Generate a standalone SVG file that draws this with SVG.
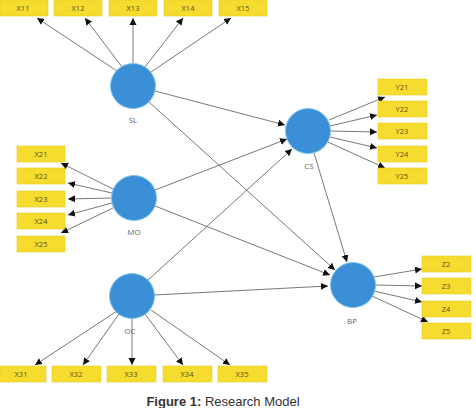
<svg xmlns="http://www.w3.org/2000/svg" width="476" height="408" viewBox="0 0 476 408">
<defs>
<marker id="ah" markerWidth="8" markerHeight="8" refX="7" refY="4" orient="auto" markerUnits="userSpaceOnUse">
<path d="M0,0.5 L7,4 L0,7.5 Z" fill="#111"/>
</marker>
<style>
.box{fill:#f6dc2f;stroke:#e8cc20;stroke-width:0.6}
.bt{font-family:"Open Sans","Liberation Sans",Arial,sans-serif;font-size:7.5px;fill:#5a5320;text-anchor:middle}
.lv{fill:#3a8fd6;stroke:#7cc4ef;stroke-width:1}
.lt{font-family:"Open Sans","Liberation Sans",Arial,sans-serif;font-size:8px;fill:#666;text-anchor:middle}
.c{stroke:#555;stroke-width:0.8;fill:none;marker-end:url(#ah)}
</style>
</defs>
<rect width="476" height="408" fill="#fff"/>
<g id="connectors">
<line class="c" x1="117" y1="71" x2="37" y2="18"/>
<line class="c" x1="122" y1="67" x2="85" y2="18"/>
<line class="c" x1="133" y1="63" x2="133" y2="18"/>
<line class="c" x1="145" y1="67" x2="183" y2="18"/>
<line class="c" x1="151" y1="72" x2="231" y2="18"/>
<line class="c" x1="113" y1="189" x2="61" y2="163"/>
<line class="c" x1="112" y1="193" x2="68" y2="183"/>
<line class="c" x1="112" y1="198" x2="68" y2="199"/>
<line class="c" x1="112" y1="203" x2="68" y2="215"/>
<line class="c" x1="113" y1="208" x2="61" y2="233"/>
<line class="c" x1="117" y1="311" x2="35" y2="365"/>
<line class="c" x1="119" y1="314" x2="83" y2="365"/>
<line class="c" x1="132" y1="318" x2="132" y2="365"/>
<line class="c" x1="145" y1="314" x2="183" y2="365"/>
<line class="c" x1="151" y1="310" x2="230" y2="365"/>
<line class="c" x1="329" y1="120" x2="385" y2="97"/>
<line class="c" x1="330" y1="126" x2="377" y2="115"/>
<line class="c" x1="331" y1="131" x2="377" y2="132"/>
<line class="c" x1="330" y1="137" x2="377" y2="148"/>
<line class="c" x1="328" y1="142" x2="385" y2="168"/>
<line class="c" x1="374" y1="277" x2="422" y2="269"/>
<line class="c" x1="375" y1="285" x2="422" y2="286"/>
<line class="c" x1="374" y1="291" x2="422" y2="302"/>
<line class="c" x1="372" y1="296" x2="428" y2="322"/>
<line class="c" x1="155" y1="91" x2="285" y2="125"/>
<line class="c" x1="155" y1="190" x2="287" y2="139"/>
<line class="c" x1="148" y1="280" x2="292" y2="149"/>
<line class="c" x1="149" y1="102" x2="335" y2="270"/>
<line class="c" x1="155" y1="206" x2="330" y2="275"/>
<line class="c" x1="154" y1="295" x2="328" y2="286"/>
<line class="c" x1="314" y1="153" x2="347" y2="262"/>
</g>
<g id="SL"><circle class="lv" cx="133" cy="86" r="22.5"/><text class="lt" x="133" y="123">SL</text></g>
<g id="MO"><circle class="lv" cx="134" cy="198" r="22.5"/><text class="lt" x="134" y="235">MO</text></g>
<g id="OC"><circle class="lv" cx="132" cy="296" r="22.5"/><text class="lt" x="130" y="334">OC</text></g>
<g id="CS"><circle class="lv" cx="308" cy="131" r="22.5"/><text class="lt" x="309" y="169">CS</text></g>
<g id="BP"><circle class="lv" cx="353" cy="285" r="22.5"/><text class="lt" x="352" y="324">BP</text></g>
<g id="X11"><rect class="box" x="0" y="0" width="48" height="16"/><text class="bt" x="23" y="11">X11</text></g>
<g id="X12"><rect class="box" x="54" y="0" width="48" height="16"/><text class="bt" x="78" y="11">X12</text></g>
<g id="X13"><rect class="box" x="109" y="0" width="48" height="16"/><text class="bt" x="133" y="11">X13</text></g>
<g id="X14"><rect class="box" x="164" y="0" width="48" height="16"/><text class="bt" x="188" y="11">X14</text></g>
<g id="X15"><rect class="box" x="219" y="0" width="48" height="16"/><text class="bt" x="243" y="11">X15</text></g>
<g id="X21"><rect class="box" x="17" y="146" width="48" height="16"/><text class="bt" x="41" y="157">X21</text></g>
<g id="X22"><rect class="box" x="17" y="168" width="48" height="16"/><text class="bt" x="41" y="179">X22</text></g>
<g id="X23"><rect class="box" x="17" y="191" width="48" height="16"/><text class="bt" x="41" y="202">X23</text></g>
<g id="X24"><rect class="box" x="17" y="213" width="48" height="16"/><text class="bt" x="41" y="224">X24</text></g>
<g id="X25"><rect class="box" x="17" y="236" width="48" height="16"/><text class="bt" x="41" y="247">X25</text></g>
<g id="X31"><rect class="box" x="0" y="366" width="46" height="16"/><text class="bt" x="21" y="377">X31</text></g>
<g id="X32"><rect class="box" x="52" y="366" width="49" height="16"/><text class="bt" x="76" y="377">X32</text></g>
<g id="X33"><rect class="box" x="107" y="366" width="49" height="16"/><text class="bt" x="131" y="377">X33</text></g>
<g id="X34"><rect class="box" x="163" y="366" width="49" height="16"/><text class="bt" x="187" y="377">X34</text></g>
<g id="X35"><rect class="box" x="218" y="366" width="49" height="16"/><text class="bt" x="242" y="377">X35</text></g>
<g id="Y21"><rect class="box" x="378" y="79" width="49" height="16"/><text class="bt" x="402" y="90">Y21</text></g>
<g id="Y22"><rect class="box" x="378" y="101" width="49" height="16"/><text class="bt" x="402" y="112">Y22</text></g>
<g id="Y23"><rect class="box" x="378" y="123" width="49" height="16"/><text class="bt" x="402" y="134">Y23</text></g>
<g id="Y24"><rect class="box" x="378" y="146" width="49" height="16"/><text class="bt" x="402" y="157">Y24</text></g>
<g id="Y25"><rect class="box" x="378" y="168" width="49" height="16"/><text class="bt" x="402" y="179">Y25</text></g>
<g id="Z2"><rect class="box" x="422" y="256" width="49" height="16"/><text class="bt" x="446" y="267">Z2</text></g>
<g id="Z3"><rect class="box" x="422" y="278" width="49" height="16"/><text class="bt" x="446" y="289">Z3</text></g>
<g id="Z4"><rect class="box" x="422" y="301" width="49" height="16"/><text class="bt" x="446" y="312">Z4</text></g>
<g id="Z5"><rect class="box" x="422" y="323" width="49" height="16"/><text class="bt" x="446" y="334">Z5</text></g>
<text x="223" y="406" font-family="&quot;Liberation Sans&quot;,Arial,sans-serif" font-size="13" fill="#333" text-anchor="middle"><tspan font-weight="bold">Figure 1:</tspan> Research Model</text>
</svg>
